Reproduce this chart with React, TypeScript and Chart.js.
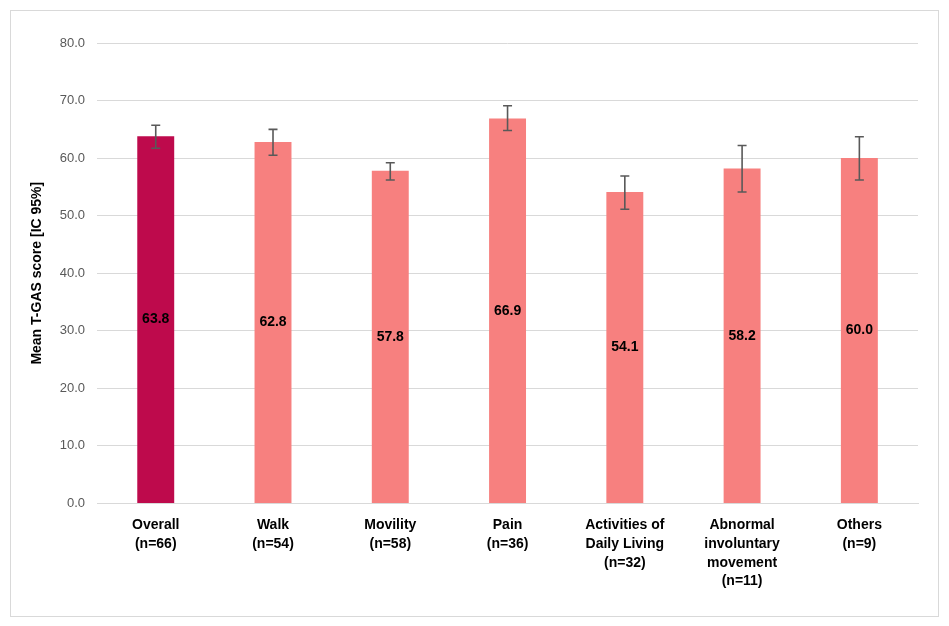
import { useEffect, useRef } from "react";
import { Chart, registerables, Plugin } from "chart.js";

Chart.register(...registerables);

const categories: string[][] = [
  ["Overall", "(n=66)"],
  ["Walk", "(n=54)"],
  ["Movility", "(n=58)"],
  ["Pain", "(n=36)"],
  ["Activities of", "Daily Living", "(n=32)"],
  ["Abnormal", "involuntary", "movement", "(n=11)"],
  ["Others", "(n=9)"],
];
const means = [63.8, 62.8, 57.8, 66.9, 54.1, 58.2, 60.0];
const ciLow = [61.7, 60.5, 56.2, 64.8, 51.1, 54.1, 56.2];
const ciHigh = [65.7, 65.0, 59.2, 69.1, 56.9, 62.2, 63.7];
const barColors = ["#BE0A4C", "#F7807F", "#F7807F", "#F7807F", "#F7807F", "#F7807F", "#F7807F"];

const FONT = "'Liberation Sans', Arial, sans-serif";

const errorBars: Plugin<"bar"> = {
  id: "errorBars",
  afterDatasetsDraw(chart) {
    const { ctx } = chart;
    const y = chart.scales.y;
    const meta = chart.getDatasetMeta(0);
    ctx.save();
    ctx.strokeStyle = "#595959";
    ctx.lineWidth = 1.6;
    meta.data.forEach((bar, i) => {
      const x = bar.x;
      const top = y.getPixelForValue(ciHigh[i]);
      const bottom = y.getPixelForValue(ciLow[i]);
      ctx.beginPath();
      ctx.moveTo(x, top);
      ctx.lineTo(x, bottom);
      ctx.moveTo(x - 4.5, top);
      ctx.lineTo(x + 4.5, top);
      ctx.moveTo(x - 4.5, bottom);
      ctx.lineTo(x + 4.5, bottom);
      ctx.stroke();
    });
    ctx.restore();
  },
};

const centerLabels: Plugin<"bar"> = {
  id: "centerLabels",
  afterDatasetsDraw(chart) {
    const { ctx } = chart;
    const meta = chart.getDatasetMeta(0);
    ctx.save();
    ctx.fillStyle = "#000000";
    ctx.font = `bold 14px ${FONT}`;
    ctx.textAlign = "center";
    ctx.textBaseline = "middle";
    meta.data.forEach((bar: any, i) => {
      const mid = (bar.y + bar.base) / 2;
      ctx.fillText(means[i].toFixed(1), bar.x, mid);
    });
    ctx.restore();
  },
};

export default function App() {
  const canvasRef = useRef<HTMLCanvasElement>(null);
  const chartRef = useRef<Chart | null>(null);

  useEffect(() => {
    document.body.style.margin = "0";
    const canvas = canvasRef.current;
    if (!canvas) return;
    chartRef.current?.destroy();

    chartRef.current = new Chart(canvas, {
      type: "bar",
      data: {
        labels: categories,
        datasets: [
          {
            data: means,
            backgroundColor: barColors,
            barPercentage: 1,
            categoryPercentage: 0.315,
          },
        ],
      },
      options: {
        animation: false,
        responsive: true,
        maintainAspectRatio: false,
        layout: { padding: { top: 32, right: 20, bottom: 21, left: 18 } },
        plugins: {
          legend: { display: false },
          tooltip: { enabled: false },
        },
        scales: {
          x: {
            grid: { display: false },
            border: { color: "#D9D9D9", width: 1 },
            ticks: {
              color: "#000000",
              padding: 4,
              maxRotation: 0,
              autoSkip: false,
              font: { family: FONT, size: 14, weight: "bold", lineHeight: 1.35 },
            },
          },
          y: {
            min: 0,
            max: 80,
            grid: { color: "#D9D9D9", drawTicks: false },
            border: { display: false },
            ticks: {
              stepSize: 10,
              padding: 12,
              color: "#595959",
              font: { family: FONT, size: 13 },
              callback(v) {
                return Number(v).toFixed(1);
              },
            },
            title: {
              display: true,
              text: "Mean T-GAS score [IC 95%]",
              color: "#000000",
              padding: { top: 0, bottom: 2 },
              font: { family: FONT, size: 14, weight: "bold" },
            },
          },
        },
      },
      plugins: [errorBars, centerLabels],
    });

    return () => {
      chartRef.current?.destroy();
      chartRef.current = null;
    };
  }, []);

  return (
    <div style={{ width: 949, height: 626, position: "relative", background: "#fff" }}>
      <div
        style={{
          position: "absolute",
          left: 10,
          top: 10,
          width: 927,
          height: 605,
          border: "1px solid #D9D9D9",
        }}
      >
        <canvas ref={canvasRef} />
      </div>
    </div>
  );
}
